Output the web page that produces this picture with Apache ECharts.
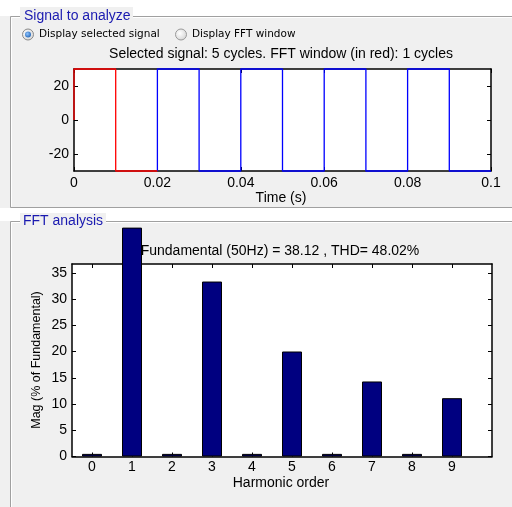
<!DOCTYPE html>
<html>
<head>
<meta charset="utf-8">
<script src="https://cdn.jsdelivr.net/npm/echarts@6/dist/echarts.min.js"></script>
<style>
html,body{margin:0;padding:0;background:#f0f0f0;}
#chart{width:512px;height:507px;}
</style>
</head>
<body>
<div id="chart"></div>
<script>
// ---- Data ----
// Top panel: selected signal (5 cycles, square wave), FFT window (1 cycle, red)
var signalT = [0.02, 0.02, 0.03, 0.03, 0.04, 0.04, 0.05, 0.05, 0.06, 0.06, 0.07, 0.07, 0.08, 0.08, 0.09, 0.09, 0.1];
var signalV = [-30, 30, 30, -30, -30, 30, 30, -30, -30, 30, 30, -30, -30, 30, 30, -30, -30];
var windowT = [0, 0, 0.01, 0.01, 0.02];
var windowV = [0, 30, 30, -30, -30];
var timeTicks = [0, 0.02, 0.04, 0.06, 0.08, 0.1];
var signalTicks = [-20, 0, 20];

// Bottom panel: FFT harmonics (% of fundamental)
var harmonicOrder = [0, 1, 2, 3, 4, 5, 6, 7, 8, 9];
var harmonicMag = [0.5, 100, 0.5, 33.33, 0.5, 20.0, 0.5, 14.29, 0.5, 11.11];
var magTicks = [0, 5, 10, 15, 20, 25, 30, 35];

var topTitle = 'Selected signal: 5 cycles. FFT window (in red): 1 cycles';
var fftTitle = 'Fundamental (50Hz) = 38.12 , THD= 48.02%';

// ---- Chart ----
var FONT = '"Liberation Sans", Arial, sans-serif';
var chart = echarts.init(document.getElementById('chart'), null, {renderer: 'canvas'});

var fftYMax = 36.67;           // MATLAB auto limit (1.1 x largest harmonic)
var fundamentalDrawTop = 43.6; // visible extent of clipped fundamental bar

function axisCommon(extra) {
  var o = {
    axisLine: {show: true, onZero: false, lineStyle: {color: '#000', width: 1.5}},
    splitLine: {show: false},
    axisTick: {show: true, inside: true, length: 4, lineStyle: {color: '#000'}},
    axisLabel: {show: true, color: '#000', fontFamily: FONT, fontSize: 14}
  };
  for (var k in extra) {
    if (typeof extra[k] === 'object' && !Array.isArray(extra[k]) && o[k]) {
      for (var j in extra[k]) o[k][j] = extra[k][j];
    } else o[k] = extra[k];
  }
  return o;
}

var option = {
  animation: false,
  backgroundColor: '#f0f0f0',
  grid: [
    {left: 74, right: 21, top: 69, height: 102, show: true, backgroundColor: '#fff', borderWidth: 0},
    {left: 72, right: 20, top: 264, height: 192.5, show: true, backgroundColor: '#fff', borderWidth: 0}
  ],
  xAxis: [
    axisCommon({type: 'value', gridIndex: 0, min: 0, max: 0.1, interval: 0.02, position: 'bottom',
      axisLabel: {margin: 5, formatter: function (v) { return String(+v.toFixed(2)); }}}),
    axisCommon({type: 'value', gridIndex: 0, min: 0, max: 0.1, interval: 0.02, position: 'top',
      axisLabel: {show: false}}),
    axisCommon({type: 'value', gridIndex: 1, min: -0.5, max: 10, position: 'bottom',
      axisTick: {customValues: harmonicOrder},
      axisLabel: {margin: 4, customValues: harmonicOrder}}),
    axisCommon({type: 'value', gridIndex: 1, min: -0.5, max: 10, position: 'top',
      axisTick: {customValues: harmonicOrder},
      axisLabel: {show: false, customValues: harmonicOrder}})
  ],
  yAxis: [
    axisCommon({type: 'value', gridIndex: 0, min: -30, max: 30, position: 'left',
      axisTick: {customValues: signalTicks},
      axisLabel: {margin: 5, customValues: signalTicks}}),
    axisCommon({type: 'value', gridIndex: 0, min: -30, max: 30, position: 'right',
      axisTick: {customValues: signalTicks},
      axisLabel: {show: false, customValues: signalTicks}}),
    axisCommon({type: 'value', gridIndex: 1, min: 0, max: fftYMax, position: 'left',
      axisTick: {customValues: magTicks},
      axisLabel: {margin: 5, customValues: magTicks}}),
    axisCommon({type: 'value', gridIndex: 1, min: 0, max: fftYMax, position: 'right',
      axisTick: {customValues: magTicks},
      axisLabel: {show: false, customValues: magTicks}})
  ],
  series: [
    {
      type: 'line', xAxisIndex: 0, yAxisIndex: 0, clip: false, symbol: 'none',
      lineStyle: {color: '#0000ff', width: 1.3}, z: 5,
      data: signalT.map(function (t, i) { return [t, signalV[i]]; })
    },
    {
      type: 'line', xAxisIndex: 0, yAxisIndex: 0, clip: false, symbol: 'none',
      lineStyle: {color: '#ff0000', width: 1.3}, z: 6,
      data: windowT.map(function (t, i) { return [t, windowV[i]]; })
    },
    {
      type: 'bar', xAxisIndex: 2, yAxisIndex: 2, clip: false, barWidth: 20,
      itemStyle: {color: '#000080', borderColor: '#000', borderWidth: 1},
      z: 5,
      data: harmonicOrder.map(function (h, i) { return [h, Math.min(harmonicMag[i], fundamentalDrawTop)]; })
    }
  ],
  graphic: [
    // white bands outside panels
    {type: 'rect', shape: {x: 0, y: 0, width: 512, height: 16}, style: {fill: '#ffffff'}, z: -10, silent: true},
    {type: 'rect', shape: {x: 0, y: 208, width: 512, height: 13}, style: {fill: '#ffffff'}, z: -10, silent: true},
    // panel 1 etched border
    {type: 'polyline', shape: {points: [[512, 16.5], [10.5, 16.5], [10.5, 207.5], [512, 207.5]]}, style: {stroke: '#a0a0a0', fill: null, lineWidth: 1}, z: -5, silent: true},
    {type: 'polyline', shape: {points: [[512, 17.5], [11.5, 17.5], [11.5, 206.5]]}, style: {stroke: '#ffffff', fill: null, lineWidth: 1}, z: -5, silent: true},
    // panel 2 etched border
    {type: 'polyline', shape: {points: [[512, 221.5], [10.5, 221.5], [10.5, 507]]}, style: {stroke: '#a0a0a0', fill: null, lineWidth: 1}, z: -5, silent: true},
    {type: 'polyline', shape: {points: [[512, 222.5], [11.5, 222.5], [11.5, 507]]}, style: {stroke: '#ffffff', fill: null, lineWidth: 1}, z: -5, silent: true},
    // panel titles
    {type: 'rect', shape: {x: 20, y: 7, width: 113, height: 18}, style: {fill: '#f0f0f0'}, z: -4, silent: true},
    {type: 'text', x: 24, y: 16, style: {text: 'Signal to analyze', fill: '#1a1ab0', font: '14px ' + FONT, textVerticalAlign: 'middle'}, z: 10},
    {type: 'rect', shape: {x: 20, y: 213, width: 86, height: 17}, style: {fill: '#f0f0f0'}, z: -4, silent: true},
    {type: 'text', x: 23, y: 221.5, style: {text: 'FFT analysis', fill: '#1a1ab0', font: '14px ' + FONT, textVerticalAlign: 'middle'}, z: 10},
    // radio buttons
    {type: 'circle', shape: {cx: 28, cy: 34.5, r: 5.5}, style: {fill: {type: 'radial', x: 0.4, y: 0.4, r: 0.7, colorStops: [{offset: 0, color: '#ffffff'}, {offset: 1, color: '#d0d0d0'}]}, stroke: '#8a8a8a', lineWidth: 1}, z: 10},
    {type: 'circle', shape: {cx: 28, cy: 34.5, r: 3}, style: {fill: {type: 'radial', x: 0.4, y: 0.4, r: 0.7, colorStops: [{offset: 0, color: '#8fc4ff'}, {offset: 1, color: '#1c5fb0'}]}}, z: 11},
    {type: 'text', x: 39, y: 34.5, style: {text: 'Display selected signal', fill: '#000', font: '10.5px "DejaVu Sans", sans-serif', textVerticalAlign: 'middle'}, z: 10},
    {type: 'circle', shape: {cx: 181, cy: 34.5, r: 5.5}, style: {fill: {type: 'radial', x: 0.4, y: 0.4, r: 0.7, colorStops: [{offset: 0, color: '#ffffff'}, {offset: 1, color: '#d0d0d0'}]}, stroke: '#9a9a9a', lineWidth: 1}, z: 10},
    {type: 'text', x: 192, y: 34.5, style: {text: 'Display FFT window', fill: '#000', font: '10.5px "DejaVu Sans", sans-serif', textVerticalAlign: 'middle'}, z: 10},
    // plot titles and axis names
    {type: 'text', x: 281, y: 54.5, style: {text: topTitle, fill: '#000', font: '14px ' + FONT, textAlign: 'center', textVerticalAlign: 'middle'}, z: 10},
    {type: 'text', x: 281, y: 198.5, style: {text: 'Time (s)', fill: '#000', font: '14px ' + FONT, textAlign: 'center', textVerticalAlign: 'middle'}, z: 10},
    {type: 'text', x: 280, y: 251.5, style: {text: fftTitle, fill: '#000', font: '14px ' + FONT, textAlign: 'center', textVerticalAlign: 'middle'}, z: 10},
    {type: 'text', x: 281, y: 483.5, style: {text: 'Harmonic order', fill: '#000', font: '14px ' + FONT, textAlign: 'center', textVerticalAlign: 'middle'}, z: 10},
    {type: 'text', x: 37, y: 360, rotation: Math.PI / 2, style: {text: 'Mag (% of Fundamental)', fill: '#000', font: '12.5px ' + FONT, textAlign: 'center', textVerticalAlign: 'middle'}, z: 10}
  ]
};
chart.setOption(option);
</script>
</body>
</html>
